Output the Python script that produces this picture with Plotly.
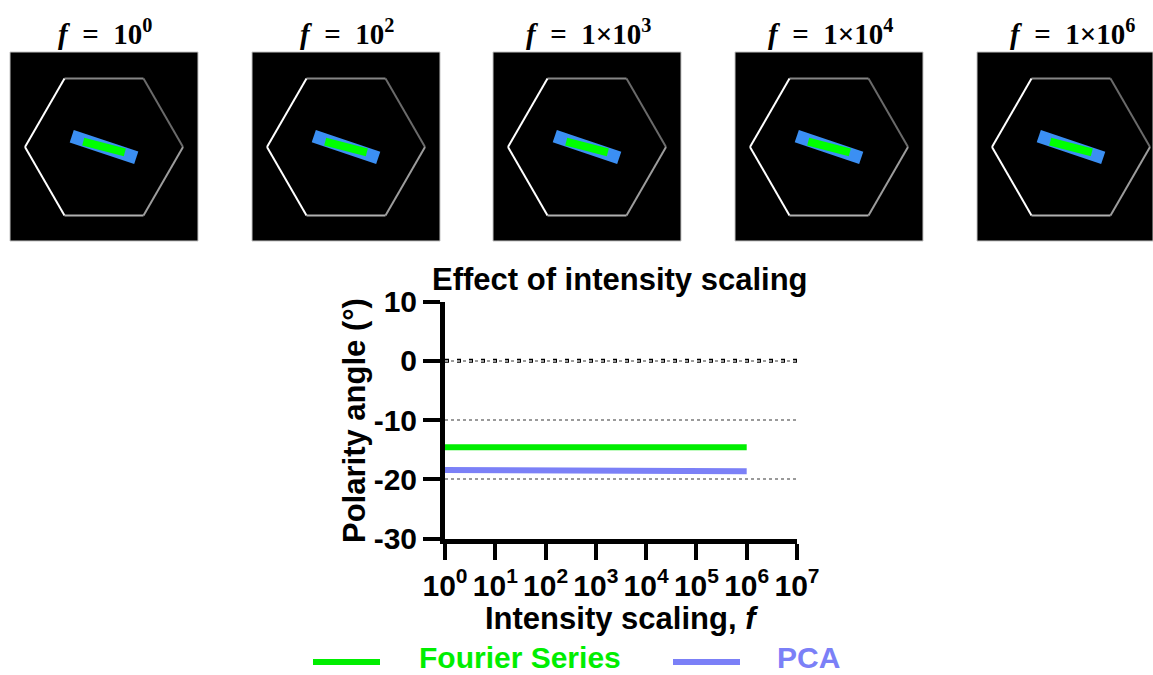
import numpy as np
import plotly.graph_objects as go

# Intensity scaling factors applied to the test image
scale_f = [1, 10, 100, 1e3, 1e4, 1e5, 1e6]
# Recovered polarity angle (degrees) for each scaling factor
fourier_deg = [-14.6, -14.6, -14.6, -14.6, -14.6, -14.6, -14.6]
pca_deg = [-18.45, -18.45, -18.65, -18.65, -18.65, -18.65, -18.65]

# Frames shown across the top
frame_f = [1, 100, 1e3, 1e4, 1e6]
frame_labels = ["10<sup>0</sup>", "10<sup>2</sup>", "1×10<sup>3</sup>",
                "1×10<sup>4</sup>", "1×10<sup>6</sup>"]

x_tick_vals = [1, 10, 100, 1e3, 1e4, 1e5, 1e6, 1e7]
x_tick_text = ["10<sup>%d</sup>" % k for k in range(8)]
y_tick_vals = [-30, -20, -10, 0, 10]
y_tick_text = ["-30", "-20", "-10", "0", "10"]

series_names = ["Fourier Series", "PCA"]
series_colors = ["#00ee00", "#7b80f7"]

W, H = 1153, 675
SANS = "Liberation Sans, Arial, sans-serif"
SERIF = "Liberation Serif, Cambria, serif"


def px(x):
    return x / W


def py(y):
    return 1 - y / H


def rect_path(cx, cy, length, width, deg):
    t = np.radians(deg)
    u = np.array([np.cos(t), -np.sin(t)])
    v = np.array([np.sin(t), np.cos(t)])
    c = np.array([cx, cy])
    pts = [c - u * length / 2 - v * width / 2, c + u * length / 2 - v * width / 2,
           c + u * length / 2 + v * width / 2, c - u * length / 2 + v * width / 2]
    pts.append(pts[0])
    return [p[0] for p in pts], [p[1] for p in pts]


fig = go.Figure()
layout = {}
shapes = []
annotations = []

# ---- frame thumbnails ----
frame_left = [10, 252, 493, 735, 977]
frame_w, frame_top, frame_bot = 188, 52, 241
hex_c, hex_r = (94, 95), 79
edge_colors = ["#6a6a6a", "#858585", "#ffffff", "#ffffff", "#b0b0b0", "#9c9c9c"]

for i, (left, f, lab) in enumerate(zip(frame_left, frame_f, frame_labels)):
    n = i + 2
    right = min(W, left + frame_w)
    layout["xaxis%d" % n] = dict(domain=[px(left), px(right)], range=[0, right - left],
                                 visible=False, fixedrange=True, anchor="y%d" % n)
    layout["yaxis%d" % n] = dict(domain=[py(frame_bot), py(frame_top)],
                                 range=[frame_bot - frame_top, 0],
                                 visible=False, fixedrange=True, anchor="x%d" % n)
    shapes.append(dict(type="rect", xref="x%d domain" % n, yref="y%d domain" % n,
                       x0=0, x1=1, y0=0, y1=1, fillcolor="black",
                       line=dict(color="#c4c4c4", width=1), layer="below"))
    k = scale_f.index(f)
    # hexagonal cell outline
    angs = np.radians(np.arange(0, 420, 60))
    hx = hex_c[0] + hex_r * np.cos(angs)
    hy = hex_c[1] - hex_r * np.sin(angs)
    for e in range(6):
        fig.add_trace(go.Scatter(x=hx[e:e + 2], y=hy[e:e + 2], mode="lines",
                                 line=dict(color=edge_colors[e], width=2),
                                 xaxis="x%d" % n, yaxis="y%d" % n,
                                 showlegend=False, hoverinfo="skip"))
    # PCA axis (blue) and Fourier axis (green)
    bx, by = rect_path(hex_c[0], hex_c[1], 68, 13, pca_deg[k])
    fig.add_trace(go.Scatter(x=bx, y=by, fill="toself", fillcolor="#3b8ff3",
                             mode="lines", line=dict(width=0),
                             xaxis="x%d" % n, yaxis="y%d" % n,
                             showlegend=False, hoverinfo="skip"))
    gx, gy = rect_path(hex_c[0], hex_c[1], 43, 8, fourier_deg[k])
    fig.add_trace(go.Scatter(x=gx, y=gy, fill="toself", fillcolor="#00ff00",
                             mode="lines", line=dict(width=0),
                             xaxis="x%d" % n, yaxis="y%d" % n,
                             showlegend=False, hoverinfo="skip"))
    annotations.append(dict(x=px(left + 95), y=py(32), xref="paper", yref="paper",
                            text="<b><i>f</i>\u2002=\u2002" + lab + "</b>", showarrow=False,
                            xanchor="center", yanchor="middle",
                            font=dict(family=SERIF, size=29, color="black")))

# ---- main plot ----
for name, ys, col in zip(series_names, [fourier_deg, pca_deg], series_colors):
    fig.add_trace(go.Scatter(x=scale_f, y=ys, mode="lines", name=name,
                             line=dict(color=col, width=6), showlegend=False))

plot_l, plot_r, plot_t, plot_b = 445, 797, 301.5, 538.5
font_ax = dict(family=SANS, size=30, color="black", weight="bold")
font_ttl = dict(family=SANS, size=31, color="black", weight="bold")

layout["xaxis"] = dict(domain=[px(plot_l), px(plot_r)], type="log", range=[0, 7],
                       tickvals=x_tick_vals, ticktext=x_tick_text, tickangle=0,
                       showline=True, linewidth=5, linecolor="black",
                       ticks="outside", ticklen=16, tickwidth=4, tickcolor="black",
                       showgrid=False, zeroline=False, tickfont=font_ax,
                       anchor="y", fixedrange=True, automargin=False)
layout["yaxis"] = dict(domain=[py(plot_b), py(plot_t)], range=[-30, 10],
                       tickvals=y_tick_vals, ticktext=y_tick_text,
                       showline=True, linewidth=5, linecolor="black",
                       ticks="outside", ticklen=17, tickwidth=4, tickcolor="black",
                       showgrid=True, gridcolor="#9a9a9a", gridwidth=2, griddash="dot",
                       zeroline=False, tickfont=font_ax, anchor="x", fixedrange=True,
                       automargin=False)

# dotted reference line at zero
shapes.append(dict(type="line", xref="x domain", yref="y", x0=0, x1=1, y0=0, y1=0,
                   line=dict(color="black", width=4, dash="4px,8px"), layer="below"))

annotations.append(dict(x=px(620), y=py(279), xref="paper", yref="paper",
                        text="Effect of intensity scaling", showarrow=False,
                        xanchor="center", yanchor="middle", font=font_ttl))
annotations.append(dict(x=px(621), y=py(618), xref="paper", yref="paper",
                        text="Intensity scaling, <i>f</i>", showarrow=False,
                        xanchor="center", yanchor="middle", font=font_ttl))
annotations.append(dict(x=px(355), y=py(421), xref="paper", yref="paper",
                        text="Polarity angle (°)", showarrow=False, textangle=-90,
                        xanchor="center", yanchor="middle", font=font_ttl))

# legend row
leg_line = [(313, 380), (673, 740)]
leg_text_x = [417, 775]
for name, col, (x0, x1), tx in zip(series_names, series_colors, leg_line, leg_text_x):
    shapes.append(dict(type="line", xref="paper", yref="paper", x0=px(x0), x1=px(x1),
                       y0=py(662), y1=py(662), line=dict(color=col, width=6)))
    annotations.append(dict(x=px(tx), y=py(657), xref="paper", yref="paper",
                            text=name, showarrow=False, xanchor="left",
                            yanchor="middle",
                            font=dict(family=SANS, size=30, color=col, weight="bold")))

fig.update_layout(width=W, height=H,
                  margin=dict(l=0, r=0, t=0, b=0, pad=0, autoexpand=False),
                  paper_bgcolor="white", plot_bgcolor="white",
                  shapes=shapes, annotations=annotations, showlegend=False,
                  **layout)

fig.write_html("out.html")
